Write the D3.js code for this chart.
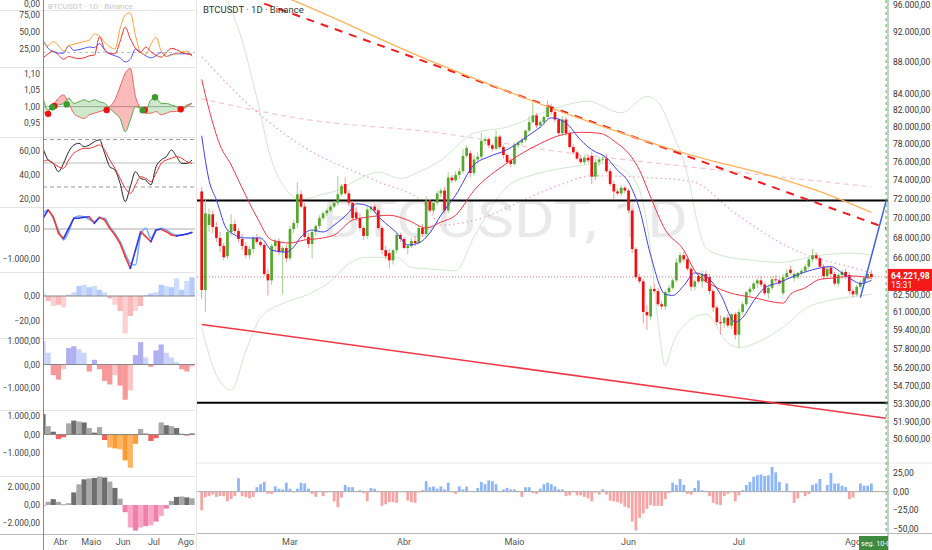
<!DOCTYPE html>
<html><head><meta charset="utf-8">
<script src="https://cdn.jsdelivr.net/npm/d3@7"></script>
<style>body{margin:0;background:#fff;} svg{display:block;font-family:Roboto,"DejaVu Sans",sans-serif;}</style>
</head><body><svg id="c" width="932" height="550"></svg>
<script>
// ---------------- DATA ----------------
const firstDay = "2024-02-06";
// daily candles [open, high, low, close] in thousands USDT
const candles = [
[72.8,73.3,62.2,63.0],[63.0,71.9,61.0,70.5],[69.3,71.0,68.6,70.4],[70.4,70.8,68.5,69.1],[69.1,69.6,67.6,68.0],
[68.0,68.6,66.6,67.2],[67.2,67.5,65.8,66.1],[66.2,68.8,65.9,68.6],[68.6,70.4,68.2,69.4],[69.4,69.8,68.3,68.7],
[68.7,69.0,67.6,67.9],[67.9,68.4,66.8,67.2],[67.2,67.6,66.0,66.3],[66.3,67.2,65.9,66.9],[66.9,68.2,66.5,68.0],
[68.0,68.4,67.4,67.6],[67.6,67.9,67.1,67.3],[67.3,67.5,64.3,64.5],[64.5,65.0,62.5,63.9],[63.9,67.4,63.5,67.2],
[67.2,67.9,66.6,67.7],[67.7,68.0,66.3,66.6],[66.6,67.2,62.6,67.0],[67.0,67.4,65.6,66.0],[66.0,69.2,65.8,68.9],
[68.9,69.8,68.5,69.5],[69.5,73.8,69.0,72.5],[72.5,72.9,71.0,71.2],[71.2,71.6,67.8,68.1],[68.1,68.5,67.0,67.4],
[67.4,68.8,66.0,68.6],[68.6,69.4,68.2,69.2],[69.2,70.3,68.9,70.0],[70.0,70.7,69.8,70.5],[70.5,71.0,70.2,70.8],
[70.8,71.4,70.6,71.2],[71.2,71.8,71.0,71.6],[71.6,74.5,71.3,72.5],[72.5,73.6,72.3,73.4],[73.6,74.3,72.4,72.6],
[72.6,72.9,71.3,71.6],[71.6,71.8,69.8,70.0],[70.6,71.1,69.7,70.0],[70.0,70.5,68.7,69.0],[69.0,69.2,67.8,68.2],
[68.2,71.3,67.9,70.9],[70.9,71.4,70.6,71.2],[71.2,71.5,70.5,70.8],[70.8,71.0,68.8,69.0],[69.0,69.2,66.4,66.8],
[66.8,67.2,65.9,66.2],[66.5,66.9,65.0,65.8],[65.8,66.9,65.4,66.8],[66.8,68.5,66.5,68.3],[68.3,68.5,67.6,67.9],
[67.9,68.1,66.9,67.0],[67.0,67.4,66.4,67.2],[67.2,68.0,67.0,67.7],[67.7,68.2,67.2,67.5],[67.5,69.2,67.4,69.0],
[69.0,69.4,68.1,68.4],[68.4,72.3,68.0,71.8],[71.8,72.0,70.6,70.8],[70.8,71.8,70.5,71.6],[71.6,72.9,71.3,72.6],
[72.6,73.2,72.2,72.9],[72.9,73.3,70.5,70.8],[70.8,74.9,70.5,74.3],[74.3,74.6,73.7,74.0],[74.0,75.0,73.8,74.6],
[74.6,75.4,74.2,75.0],[75.0,77.5,74.7,76.7],[76.7,77.9,76.5,77.6],[77.0,77.3,74.3,74.8],[74.8,76.8,74.5,76.3],
[76.3,77.1,75.8,76.6],[76.6,79.3,76.3,78.4],[78.4,78.9,78.0,78.6],[78.6,78.8,77.6,77.9],[77.9,78.1,77.2,77.5],
[77.5,79.6,77.3,78.9],[78.9,79.1,77.5,77.7],[77.7,77.9,76.4,76.8],[76.8,77.0,75.8,76.0],[76.2,76.5,75.4,75.8],
[75.8,78.2,75.6,77.9],[77.9,78.4,77.6,78.2],[78.2,78.8,77.9,78.5],[78.5,79.7,78.3,79.6],[79.6,81.3,79.4,80.6],
[80.6,83.0,80.4,81.4],[81.4,81.7,79.9,80.2],[80.2,80.9,79.9,80.6],[80.6,81.4,80.3,81.2],[81.2,83.2,81.0,82.4],
[82.4,82.8,81.5,81.8],[81.8,82.0,80.6,80.9],[80.9,81.1,79.0,79.3],[79.3,81.3,79.0,80.9],[80.9,81.2,79.0,79.3],
[79.3,79.5,77.5,77.7],[77.7,78.0,76.9,77.1],[77.1,77.3,76.2,76.4],[76.4,76.8,75.8,76.0],[76.0,76.7,75.7,76.5],
[76.5,76.8,75.9,76.2],[76.7,77.2,73.6,74.4],[74.4,76.4,74.0,76.0],[76.0,76.6,75.6,76.3],[76.3,76.8,76.0,76.4],
[76.4,76.9,74.8,75.0],[75.0,75.3,73.4,73.6],[73.6,73.9,72.0,72.8],[72.8,73.1,72.4,72.6],[72.6,73.5,72.3,73.2],
[73.2,73.4,72.6,72.9],[72.9,73.1,70.5,70.8],[70.8,71.0,66.5,66.9],[66.9,67.1,64.0,64.2],[64.2,64.5,63.6,63.8],
[63.8,64.0,60.0,61.0],[61.0,61.6,59.4,60.7],[60.6,63.4,60.3,63.1],[63.1,63.6,62.7,62.9],[62.9,63.2,61.5,61.7],
[61.7,62.0,61.2,61.5],[61.5,63.0,61.2,62.8],[62.8,63.5,62.5,63.2],[63.2,64.1,63.0,63.9],[63.9,66.0,63.7,65.6],
[65.6,66.6,65.4,66.3],[66.3,66.6,65.6,65.9],[65.9,66.1,64.8,65.0],[65.0,65.2,62.9,63.3],[63.3,64.0,63.0,63.8],
[64.3,64.6,63.6,63.8],[63.8,64.8,63.2,64.5],[64.5,64.8,63.6,63.8],[64.2,64.5,62.6,62.9],[62.9,63.1,61.0,61.4],
[61.4,61.6,59.8,60.1],[60.1,60.7,59.0,60.0],[60.0,60.6,59.6,60.5],[60.5,60.8,59.6,59.8],[59.8,60.9,59.5,60.8],
[60.8,61.0,58.6,59.0],[59.0,61.3,57.9,61.0],[61.0,61.9,60.8,61.7],[61.7,62.9,61.5,62.8],[62.8,63.3,62.4,63.1],
[63.1,63.8,62.9,63.6],[63.6,64.1,63.2,63.9],[63.9,64.3,63.3,63.5],[63.5,63.7,62.5,62.7],[62.7,63.5,62.2,63.2],
[63.2,64.3,63.0,64.0],[64.0,64.4,63.7,63.9],[63.9,64.1,63.4,63.6],[62.7,64.5,62.5,64.2],[64.2,65.0,64.0,64.6],
[64.9,65.3,64.4,64.6],[64.1,64.8,63.8,64.5],[64.2,64.7,64.0,64.6],[64.6,65.0,64.4,64.8],[64.8,65.4,64.6,65.2],
[65.2,66.1,65.0,65.9],[65.9,66.9,65.6,66.3],[66.3,66.6,65.8,66.0],[66.0,66.2,65.0,65.2],[65.2,65.4,64.0,64.3],
[64.3,65.3,64.1,65.0],[65.1,65.3,64.2,64.5],[64.5,64.7,63.4,63.6],[63.6,64.6,63.3,64.4],[64.4,64.9,64.0,64.7],
[64.7,65.0,64.0,64.2],[64.4,64.7,62.6,62.9],[62.9,63.1,62.3,62.6],[62.6,63.5,62.4,63.3],[63.3,63.9,63.1,63.7],
[63.7,64.3,63.5,64.1],[64.1,64.8,63.9,64.5],[64.5,64.9,64.0,64.22]
];
// lower pane oscillator, one value per day
const oscValues = [
-25,-7.5,-6,-4,-7,-6,-6,-13,-10,-6, 18,-6,-7,-9,-7,6,10,13,-3,-3, 7,4,3,12,4,-1,4,12,11,4,
-3,-7,1,-6,-1,0.5,-13,-21,-8,9, 6,6,0.5,2,-2,-13,5,4,1,-19, -17,-14,-14,-15,-0.5,-0.5,-12,-14,-15,-1,
2,14,6,7,4,7,3,12,0.5,-3, 7,3,7,1,0.5,5,13,10,15,14, 10,0.5,3,5,3,3,1,-7,6,6,
-2,-3,4,10,12,10,7,3,3,-6, -5,-0.5,-5,-5,-7,-9,-13,
-1,-4,3,-4,-12,-13,-14,-16,-20,-22,-40,-52,-35,-29,-23,-18,-19,-19,-19,-10,-2,12,9,17,9,-3,-4,5,15,2,
0.5,-6,-15,-17,-18,-6,-3,-0.5,-13,-5,2,9,13,20,22,23,21,22,33,26,13,0.5,11,0.5,-15,-9,-0.5,-6,-3,9,
11,17,0.5,9,25,11,11,8,6,-10,-8,0.5,11,8,8,11
];
// overlay lines: [day index, price in thousands]
const fastMA = [[0,79.0],[2,74.0],[4,71.9],[7,68.8],[12,68.0],[16,68.0],[19,66.8],[23,66.6],[25,67.1],[27,68.1],[30,68.8],[33,68.6],[36,69.3],[40,70.6],[42,71.5],[45,71.3],[49,69.8],[53,68.5],[56,67.3],[59,67.5],[62,68.5],[65,70.3],[69,72.4],[74,75.7],[78,76.6],[83,77.4],[88,78.8],[92,80.0],[95,81.1],[99,80.5],[103,78.5],[106,77.4],[110,76.5],[113,75.1],[116,73.8],[119,70.9],[122,66.3],[126,62.6],[128,62.5],[131,63.4],[134,64.6],[138,64.0],[141,62.6],[145,60.1],[147,60.5],[150,62.0],[153,63.2],[157,63.7],[161,64.3],[166,64.9],[171,65.2],[174,64.6],[177,63.9],[179,63.6],[182,63.9]];
const slowMA = [[0,85.8],[2,82.1],[5,77.9],[8,75.7],[10,74.0],[15,70.1],[19,67.8],[24,67.5],[28,67.8],[33,68.0],[36,68.3],[41,69.8],[45,70.1],[51,70.3],[56,69.8],[61,69.0],[65,69.6],[69,70.3],[74,72.9],[83,75.9],[92,78.1],[97,79.0],[103,79.4],[108,79.3],[113,78.1],[116,77.0],[119,75.1],[122,72.2],[126,68.8],[131,66.8],[134,64.8],[139,63.4],[143,62.8],[150,62.3],[158,61.8],[160,62.6],[164,63.2],[168,64.0],[171,64.1],[177,64.3],[182,64.1]];
const longMA = [[20,97.4],[26,96.1],[63,88.0],[82,84.5],[101,81.3],[132,76.9],[157,74.2],[170,72.5],[182,70.6]];
const bandUpper = [[6,97.5],[11,90.8],[15,83.5],[19,76.2],[23,73.0],[27,71.9],[32,72.4],[38,73.1],[43,74.2],[48,74.9],[54,74.2],[59,74.9],[65,76.2],[74,79.3],[83,80.0],[95,82.1],[105,83.1],[114,81.7],[121,83.7],[124,83.0],[128,79.3],[132,74.7],[135,69.1],[137,67.0],[141,66.3],[150,65.8],[157,65.6],[168,66.3],[177,66.5],[182,66.3]];
const bandLower = [[0,59.6],[4,55.6],[8,54.4],[12,57.6],[16,60.5],[23,61.9],[29,62.6],[35,63.8],[40,65.5],[45,66.1],[53,66.1],[57,65.1],[61,65.0],[69,64.8],[74,68.1],[83,73.3],[92,74.8],[101,75.5],[110,75.9],[115,75.1],[119,72.9],[122,66.8],[124,60.1],[126,56.4],[128,58.2],[132,60.1],[137,60.8],[143,58.3],[146,57.9],[152,58.5],[159,59.9],[164,61.3],[170,62.0],[177,62.4],[182,62.6]];
const midMA = [[0,88.7],[13,82.6],[27,77.9],[47,74.0],[61,71.4],[65,69.3],[76,70.0],[87,71.8],[98,73.6],[106,74.5],[121,74.3],[133,73.9],[145,70.5],[160,67.0],[179,64.9],[182,64.6]];
const farMA = [[0,83.4],[27,81.0],[65,79.3],[95,77.3],[132,75.5],[182,73.3]];
// drawings: [day index, price k]
const resistanceDashed = [[17,95.9],[186,69.0]];
const supportLine = [[0,59.9],[186,52.2]];
const projection = [[179,62.3],[186,71.8]];
const hLevels = [71.85, 53.4];
const lastPrice = 64.22198;
const priceTicks = [96000,92000,88000,84000,82000,80000,78000,76000,74000,72000,70000,68000,66000,62500,61000,59400,57800,56200,54700,53300,51900,50600];
const oscTicks = [25,0,-25,-50];
const monthLabels = ["Mar","Abr","Maio","Jun","Jul","Ago"];

// ---- left stack of indicators, one sample every 5 days from 2024-03-15 ----
const leftStart = "2024-03-15";
const dmiBlue   = [38,26,21,19,19,30,23,24,26,28,27,33,24,18,15,12,6,10,25,20,15,12,15,20,14,17,18,18,18,17];
const dmiOrange = [34,30,36,30,22,30,32,34,36,38,47,44,35,28,25,55,75,78,45,20,17,32,42,22,14,16,18,20,22,14];
const dmiRed    = [12,18,22,16,10,14,12,11,12,15,16,43,24,18,18,36,57,40,26,20,28,21,16,13,20,26,24,20,18,16];
const ratioGreen= [1.026,0.990,1.000,1.005,1.010,1.026,1.010,1.015,1.021,1.015,1.021,1.015,1.010,0.995,0.980,0.964,0.923,0.959,1.000,0.995,0.990,1.021,1.026,1.010,1.010,1.005,1.000,0.995,1.005,1.010];
const ratioRed  = [0.980,0.985,1.005,1.026,1.036,1.010,0.980,0.969,0.964,0.975,0.980,0.985,0.990,1.000,1.021,1.061,1.102,1.117,1.031,0.995,0.980,0.980,0.985,0.975,0.980,0.985,0.985,0.990,1.000,1.010];
const crossRed  = [["2024-03-20",0.978],["2024-03-26",1.002],["2024-05-16",0.990],["2024-06-22",0.990],["2024-07-27",0.992]];
const crossGreen= [["2024-03-24",0.998],["2024-04-07",1.007],["2024-06-20",0.989],["2024-07-02",1.029]];
const rsiLine   = [62.2,52.5,49.7,42.8,49.7,59.4,65,66.4,63.6,65,67.8,69.2,58.1,46.9,44.2,33.1,17.8,30.3,42.8,37.2,35.8,31.7,46.9,52.5,55.3,60.8,55.3,49.7,49.7,52.5];
const rsiAvg    = [51.1,52.5,49.7,46.9,45.6,52.5,58.1,60.8,62.2,62.2,63.6,65,60.8,52.5,45.6,37.2,28.9,24.7,31.7,38.6,37.2,34.4,41.4,49.7,52.5,53.9,55.3,53.9,51.1,49.7];
const macdLine  = [356,633,411,-144,-311,22,356,356,389,411,189,389,300,22,-200,-478,-922,-1311,-700,-89,-256,-422,-33,-11,-89,-200,-233,-200,-167,-111];
const macdSignal= [522,633,356,-33,-367,-89,356,433,411,322,244,356,356,78,-144,-422,-811,-1144,-1200,-200,22,-311,-33,22,-33,-144,-200,-200,-167,-122];
const momHist   = [2,-4,-8,-7,-9,1,3,8,9,7,8,5,3,-2,-7,-12,-30,-16,-12,-8,1,2,3,9,8,7,14,5,12,15];
const powerHist = [1000,500,-450,-640,-200,700,780,650,500,-300,200,-200,-700,-850,-450,-900,-1500,-1100,400,950,300,-100,600,850,500,300,100,-200,-300,-100];
const forceHist = [1100,450,150,-250,-150,600,750,700,650,350,100,400,-300,-700,-750,-800,-1400,-1800,-500,300,50,-350,-200,650,500,450,350,50,-60,80];
const trendHist = [-100,350,650,350,50,200,1400,2300,2850,2950,3000,3150,3050,2600,1900,700,-800,-2500,-2850,-2500,-2350,-2250,-1850,-1200,-400,450,900,950,850,750];

// ---------------- DRAW ----------------
const svg = d3.select("#c");
const parse = d3.timeParse("%Y-%m-%d");
const day0 = parse(firstDay);
const dayDate = i => d3.timeDay.offset(day0, i);
const loc = d3.formatLocale({decimal:",",thousands:".",grouping:[3],currency:["",""],minus:"\u2212"});
const f2 = loc.format(",.2f");
const TXT = "#333";

const defs = svg.append("defs");
function clip(id,x,y,w,h){defs.append("clipPath").attr("id",id).append("rect").attr("x",x).attr("y",y).attr("width",w).attr("height",h);}

// ====== MAIN CHART ======
const x = d3.scaleTime().domain([new Date(2024,2,1), new Date(2024,7,1)]).range([290,853]);
const y = d3.scaleLog().domain([50600,96000]).range([439.4,2.9]);
const yk = v => y(v*1000);
clip("mainClip",197,0,691,455);
const main = svg.append("g").attr("clip-path","url(#mainClip)");

// watermark
main.append("text").attr("x",322).attr("y",237).attr("font-size",52).attr("fill","#e9e9e9")
  .attr("textLength",366).attr("lengthAdjust","spacingAndGlyphs").text("BTCUSDT, 1D");

const lineK = d3.line().x(d=>x(dayDate(d[0]))).y(d=>yk(d[1]));
const curveK = d3.line().curve(d3.curveMonotoneX).x(d=>x(dayDate(d[0]))).y(d=>yk(d[1]));

// faint MAs and bands
main.append("path").attr("d",curveK(farMA)).attr("fill","none").attr("stroke","#f6c6cf").attr("stroke-width",1.2).attr("stroke-dasharray","5,4");
main.append("path").attr("d",curveK(midMA)).attr("fill","none").attr("stroke","#f2a6b8").attr("stroke-width",1.3).attr("stroke-dasharray","1.5,3");
main.append("path").attr("d",curveK(bandUpper)).attr("fill","none").attr("stroke","#cfe8cc").attr("stroke-width",1);
main.append("path").attr("d",curveK(bandLower)).attr("fill","none").attr("stroke","#cfe8cc").attr("stroke-width",1);

// horizontal levels
hLevels.forEach(v=>main.append("line").attr("x1",197).attr("x2",888).attr("y1",yk(v)).attr("y2",yk(v)).attr("stroke","#000").attr("stroke-width",2));
// last price dotted
main.append("line").attr("x1",197).attr("x2",888).attr("y1",yk(lastPrice)).attr("y2",yk(lastPrice)).attr("stroke","#f07070").attr("stroke-width",1).attr("stroke-dasharray","1,2");

// trend lines
main.append("path").attr("d",lineK(supportLine)).attr("stroke","#f23645").attr("stroke-width",1.5).attr("fill","none");
main.append("path").attr("d",lineK(resistanceDashed)).attr("stroke","#f21c1c").attr("stroke-width",2).attr("stroke-dasharray","8,7").attr("fill","none");
main.append("path").attr("d",curveK(longMA)).attr("stroke","#ffb257").attr("stroke-width",1.3).attr("fill","none");

// candles
const bw = 2.7;
const cg = main.append("g");
candles.forEach((c,i)=>{
  const [o,h,l,cl]=c, up = cl>=o, cx = x(dayDate(i));
  cg.append("line").attr("x1",cx).attr("x2",cx).attr("y1",yk(h)).attr("y2",yk(l))
    .attr("stroke",up?"#9fd38a":"#f39a9a").attr("stroke-width",1);
  const t = yk(Math.max(o,cl)), b = yk(Math.min(o,cl));
  cg.append("rect").attr("x",cx-bw/2).attr("y",t).attr("width",bw).attr("height",Math.max(1,b-t))
    .attr("fill",up?"#55a82d":"#f40f0f");
});
// moving averages over candles
main.append("path").attr("d",curveK(slowMA)).attr("stroke","#f23645").attr("stroke-width",1).attr("fill","none");
main.append("path").attr("d",curveK(fastMA)).attr("stroke","#3f3ff0").attr("stroke-width",1).attr("fill","none");
main.append("path").attr("d",lineK(projection)).attr("stroke","#3f5ff5").attr("stroke-width",1.5).attr("fill","none");

// title
svg.append("text").attr("x",203).attr("y",13).attr("font-size",9.5).attr("fill","#333").text("BTCUSDT \u00b7 1D \u00b7 Binance");

// lower oscillator pane
const yo = d3.scaleLinear().domain([-50,25]).range([529,473]);
const og = svg.append("g");
oscValues.forEach((v,i)=>{
  const cx = x(dayDate(i));
  og.append("rect").attr("x",cx-1.4).attr("width",2.8)
    .attr("y",Math.min(yo(v),yo(0))).attr("height",Math.max(0.6,Math.abs(yo(v)-yo(0))))
    .attr("fill",v>=0?"#8fb6f7":"#f7a4a4");
});
svg.append("line").attr("x1",197).attr("x2",888).attr("y1",yo(0)).attr("y2",yo(0)).attr("stroke","#aaa").attr("stroke-width",1);
svg.append("line").attr("x1",197).attr("x2",932).attr("y1",463).attr("y2",463).attr("stroke","#e8e8e8");
svg.append("line").attr("x1",888).attr("x2",932).attr("y1",443).attr("y2",443).attr("stroke","#e8e8e8");

// crosshair vertical
const cross = new Date(2024,7,10);
svg.append("line").attr("x1",x(cross)).attr("x2",x(cross)).attr("y1",0).attr("y2",533).attr("stroke","#4caf50").attr("stroke-dasharray","3,3");

// axes frame
svg.append("line").attr("x1",888).attr("x2",888).attr("y1",0).attr("y2",550).attr("stroke","#999");
svg.append("line").attr("x1",197).attr("x2",932).attr("y1",533.5).attr("y2",533.5).attr("stroke","#bbb");
svg.append("line").attr("x1",196.5).attr("x2",196.5).attr("y1",0).attr("y2",550).attr("stroke","#e5e5e5");

// price axis labels
const pa = svg.append("g").attr("font-size",8.5).attr("fill",TXT);
priceTicks.forEach(v=>pa.append("text").attr("x",893).attr("y",Math.max(y(v)+3,8)).text(f2(v)));
oscTicks.forEach(v=>pa.append("text").attr("x",893).attr("y",yo(v)+3).text(f2(v)));
// last price label
svg.append("rect").attr("x",888).attr("y",yk(lastPrice)-8).attr("width",44).attr("height",22).attr("fill","#f21a1a");
svg.append("text").attr("x",891).attr("y",yk(lastPrice)+2).attr("font-size",8.5).attr("font-weight","bold").attr("fill","#fff").text(f2(lastPrice*1000));
svg.append("text").attr("x",891).attr("y",yk(lastPrice)+11).attr("font-size",8.5).attr("fill","#fff").text("15:31");

// month labels main
const months = d3.timeMonth.range(new Date(2024,2,1), new Date(2024,7,2));
months.forEach((m,k)=>svg.append("text").attr("x",x(m)).attr("y",545).attr("text-anchor","middle").attr("font-size",9).attr("fill","#555").text(monthLabels[k]));
// crosshair date label
svg.append("rect").attr("x",859).attr("y",536).attr("width",29).attr("height",14).attr("fill","#3e8a3e");
svg.append("text").attr("x",861).attr("y",546).attr("font-size",7.2).attr("fill","#fff").text("seg. 10-0");

// ====== LEFT INDICATOR STACK ======
const l0 = parse(leftStart);
const lDates = dmiBlue.map((_,j)=>d3.timeDay.offset(l0,5*j));
const lx = d3.scaleTime().domain([new Date(2024,2,15), new Date(2024,7,7)]).range([43,192]);
const left = svg.append("g");
const panels = [[10,67],[67,137],[137,207],[207,272],[272,338],[338,410],[410,476],[476,534]];
panels.forEach((p,k)=>{ clip("lp"+k,44,p[0],151,p[1]-p[0]);
  left.append("line").attr("x1",0).attr("x2",195).attr("y1",p[1]+0.5).attr("y2",p[1]+0.5).attr("stroke",k==7?"#bbb":"#e3e3e3"); });
left.append("line").attr("x1",0).attr("x2",195).attr("y1",10.5).attr("y2",10.5).attr("stroke","#e3e3e3");
left.append("text").attr("x",48).attr("y",9).attr("font-size",8).attr("fill","#c8c8c8").text("BTCUSDT \u00b7 1D \u00b7 Binance");

const lab = left.append("g").attr("font-size",8.5).attr("fill","#444").attr("text-anchor","end");
function labels(scale, vals){ vals.forEach(v=>lab.append("text").attr("x",40).attr("y",scale(v)+3).text(f2(v))); }
function pline(g, scale, vals, color, w){ g.append("path").attr("d", d3.line().curve(d3.curveMonotoneX).x((d,j)=>lx(lDates[j])).y(d=>scale(d))(vals)).attr("fill","none").attr("stroke",color).attr("stroke-width",w||1); }
function hline(g, yv, color, dash){ g.append("line").attr("x1",43).attr("x2",195).attr("y1",yv).attr("y2",yv).attr("stroke",color).attr("stroke-dasharray",dash||null); }
const bwL = 5.2;
function hist(g, scale, vals, colorFn){ vals.forEach((v,j)=>{ const cx=lx(lDates[j]); g.append("rect").attr("x",cx-bwL/2).attr("width",bwL).attr("y",Math.min(scale(v),scale(0))).attr("height",Math.max(0.6,Math.abs(scale(v)-scale(0)))).attr("fill",colorFn(v,j)); }); }
lab.append("text").attr("x",40).attr("y",7).text(f2(0));

// P1 DMI
const s1 = d3.scaleLinear().domain([0,75]).range([66,15]);
const g1 = left.append("g").attr("clip-path","url(#lp0)");
hline(g1, s1(20), "#bbb", "3,3");
pline(g1,s1,dmiBlue,"#5050ff"); pline(g1,s1,dmiOrange,"#ffa030"); pline(g1,s1,dmiRed,"#f03030");
labels(s1,[75,50,25]);

// P2 ratio cloud
const s2 = d3.scaleLinear().domain([0.95,1.10]).range([123,74]);
const g2 = left.append("g").attr("clip-path","url(#lp1)");
hline(g2, s2(1), "#aaa");
const xr = (d,j)=>lx(lDates[j]);
const aboveG = d3.area().curve(d3.curveMonotoneX).x(xr).y0(67).y1((d,j)=>s2(ratioGreen[j]));
const belowG = d3.area().curve(d3.curveMonotoneX).x(xr).y0(137).y1((d,j)=>s2(ratioGreen[j]));
defs.append("clipPath").attr("id","abG").append("path").attr("d",aboveG(ratioGreen));
defs.append("clipPath").attr("id","beG").append("path").attr("d",belowG(ratioGreen));
const band = d3.area().curve(d3.curveMonotoneX).x(xr).y0((d,j)=>s2(ratioGreen[j])).y1((d,j)=>s2(ratioRed[j]));
g2.append("path").attr("d",band(ratioRed)).attr("fill","rgba(242,60,60,0.35)").attr("clip-path","url(#abG)");
g2.append("path").attr("d",band(ratioRed)).attr("fill","rgba(90,180,80,0.3)").attr("clip-path","url(#beG)");
pline(g2,s2,ratioGreen,"#58a848"); pline(g2,s2,ratioRed,"#f06060");
crossRed.forEach(d=>g2.append("circle").attr("cx",lx(parse(d[0]))).attr("cy",s2(d[1])).attr("r",3.2).attr("fill","#f01010"));
crossGreen.forEach(d=>g2.append("circle").attr("cx",lx(parse(d[0]))).attr("cy",s2(d[1])).attr("r",3.2).attr("fill","#3a9a2a"));
labels(s2,[1.10,1.05,1.00,0.95]);

// P3 RSI
const s3 = d3.scaleLinear().domain([20,60]).range([199,151]);
const g3 = left.append("g").attr("clip-path","url(#lp2)");
hline(g3, s3(70)+0.5, "#999", "4,3"); hline(g3, s3(30), "#999", "4,3"); hline(g3, s3(50), "#bbb");
pline(g3,s3,rsiLine,"#222"); pline(g3,s3,rsiAvg,"#f03030");
labels(s3,[60,40,20]);

// P4 MACD
const s4 = d3.scaleLinear().domain([-1000,0]).range([259,229]);
const g4 = left.append("g").attr("clip-path","url(#lp3)");
hline(g4, s4(0), "#aaa");
pline(g4,s4,macdSignal,"#70aaff",1.5);
const mline = d3.line().x(d=>lx(d[0])).y(d=>s4(d[1]));
for(let j=1;j<macdLine.length;j++){
  g4.append("path").attr("d",mline([[lDates[j-1],macdLine[j-1]],[lDates[j],macdLine[j]]])).attr("fill","none")
    .attr("stroke",macdLine[j]<macdLine[j-1]?"#f03c3c":"#3535e6").attr("stroke-width",1.6).attr("stroke-linecap","round");
}
labels(s4,[0,-1000]);

// P5 momentum histogram
const s5 = d3.scaleLinear().domain([-20,0]).range([321,296]);
const g5 = left.append("g").attr("clip-path","url(#lp4)");
hist(g5,s5,momHist,(v,j)=>v>=0?(j%2?"rgba(90,140,250,0.45)":"rgba(90,140,250,0.3)"):(j%2?"rgba(245,90,90,0.42)":"rgba(245,90,90,0.28)"));
hline(g5, s5(0), "#888");
labels(s5,[0,-20]);

// P6
const s6 = d3.scaleLinear().domain([-1000,1000]).range([388,341]);
const g6 = left.append("g").attr("clip-path","url(#lp5)");
hist(g6,s6,powerHist,(v,j)=>v>=0?(j>0&&v>powerHist[j-1]?"rgba(110,110,230,0.55)":"rgba(150,170,245,0.5)"):(j>0&&v<powerHist[j-1]?"rgba(240,70,70,0.55)":"rgba(250,140,140,0.5)"));
hline(g6, s6(0), "#888");
labels(s6,[1000,0,-1000]);

// P7
const s7 = d3.scaleLinear().domain([-1000,1000]).range([453,416]);
const g7 = left.append("g").attr("clip-path","url(#lp6)");
hist(g7,s7,forceHist,(v,j)=>v>=0?(j%2?"#a8a8a8":"#6e6e6e"):(v<-400?(j%2?"#ffb560":"#ff9a35"):"#f26060"));
hline(g7, s7(0), "#888");
labels(s7,[1000,0,-1000]);

// P8
const s8 = d3.scaleLinear().domain([-2000,2000]).range([523,487]);
const g8 = left.append("g").attr("clip-path","url(#lp7)");
hist(g8,s8,trendHist,(v,j)=>v>=0?(j%2?"#a8a8a8":"#6e6e6e"):(j%2?"#f7a8c4":"#f080a8"));
labels(s8,[2000,0,-2000]);

// left axis + months
left.append("line").attr("x1",43.5).attr("x2",43.5).attr("y1",0).attr("y2",550).attr("stroke","#888");
const lmonths = d3.timeMonth.range(new Date(2024,3,1), new Date(2024,7,2));
lmonths.forEach((m,k)=>left.append("text").attr("x",lx(m)).attr("y",545).attr("text-anchor","middle").attr("font-size",9).attr("fill","#555").text(monthLabels[k+1]));
</script></body></html>
